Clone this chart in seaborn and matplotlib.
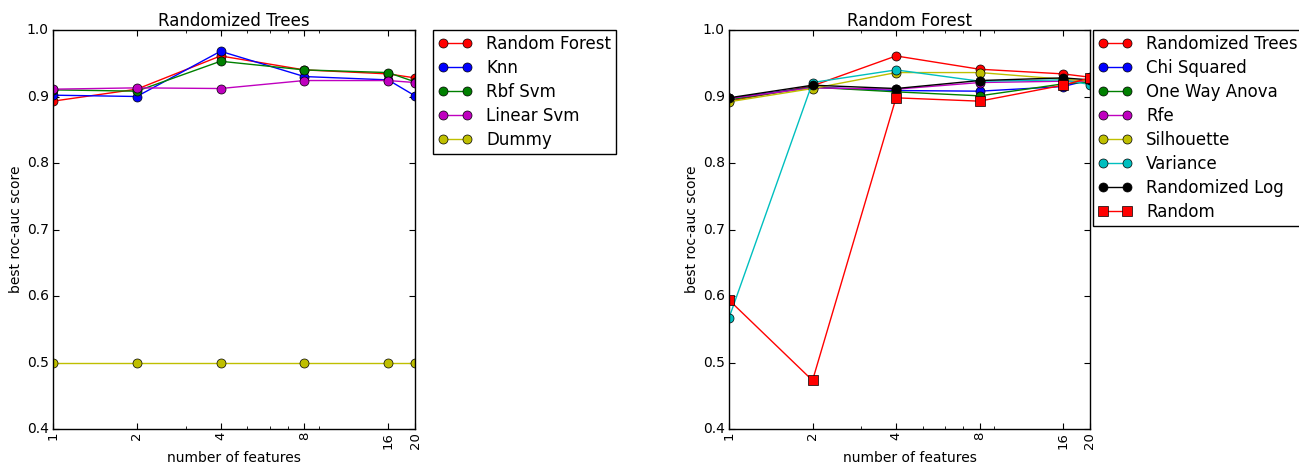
import matplotlib
matplotlib.use("Agg")
import matplotlib.pyplot as plt
import seaborn as sns
import pandas as pd

# number of selected features evaluated
n_features = [1, 2, 4, 8, 16, 20]

# Left panel: classifiers trained on features picked by Randomized Trees
rt_random_forest = [0.893, 0.911, 0.961, 0.940, 0.934, 0.928]
rt_knn = [0.902, 0.900, 0.968, 0.930, 0.925, 0.901]
rt_rbf_svm = [0.910, 0.908, 0.953, 0.940, 0.936, 0.922]
rt_linear_svm = [0.911, 0.913, 0.912, 0.924, 0.924, 0.921]
rt_dummy = [0.5, 0.5, 0.5, 0.5, 0.5, 0.5]

# Right panel: Random Forest scores for each feature selection method
rf_randomized_trees = [0.893, 0.916, 0.961, 0.941, 0.934, 0.929]
rf_chi_squared = [0.897, 0.914, 0.909, 0.908, 0.915, 0.925]
rf_one_way_anova = [0.895, 0.914, 0.907, 0.901, 0.919, 0.922]
rf_rfe = [0.897, 0.913, 0.911, 0.921, 0.923, 0.923]
rf_silhouette = [0.892, 0.912, 0.936, 0.936, 0.926, 0.923]
rf_variance = [0.567, 0.921, 0.940, 0.923, 0.925, 0.918]
rf_randomized_log = [0.898, 0.917, 0.912, 0.924, 0.928, 0.925]
rf_random = [0.594, 0.473, 0.898, 0.893, 0.917, 0.928]

left_names = ["Random Forest", "Knn", "Rbf Svm", "Linear Svm", "Dummy"]
left_values = [rt_random_forest, rt_knn, rt_rbf_svm, rt_linear_svm, rt_dummy]
left_colors = ["r", "b", "g", "m", "y"]
left_markers = ["o"] * 5

right_names = ["Randomized Trees", "Chi Squared", "One Way Anova", "Rfe",
               "Silhouette", "Variance", "Randomized Log", "Random"]
right_values = [rf_randomized_trees, rf_chi_squared, rf_one_way_anova, rf_rfe,
                rf_silhouette, rf_variance, rf_randomized_log, rf_random]
right_colors = ["r", "b", "g", "m", "y", "c", "k", "r"]
right_markers = ["o"] * 7 + ["s"]

plt.style.use("classic")
sns.set_style("ticks", {"xtick.direction": "in", "ytick.direction": "in",
                        "text.color": "black", "axes.labelcolor": "black",
                        "xtick.color": "black", "ytick.color": "black"})
plt.rcParams["font.family"] = ["DejaVu Sans"]

fig = plt.figure(figsize=(12.99, 4.68), dpi=100, facecolor="white")
ax_left = fig.add_axes([0.0408, 0.0833, 0.2787, 0.8526])
ax_right = fig.add_axes([0.5612, 0.0833, 0.2779, 0.8526])


def draw_panel(ax, title, names, values, colors, markers, legend_x):
    for name, vals, col, mk in zip(names, values, colors, markers):
        df = pd.DataFrame({"n_features": n_features, "score": vals})
        sns.lineplot(data=df, x="n_features", y="score", ax=ax, color=col,
                     marker=mk, markersize=6.5, markeredgecolor="k",
                     markeredgewidth=0.5, linewidth=1.0, label=name,
                     errorbar=None)
    ax.set_xscale("log", base=2)
    ax.set_xlim(1, 20)
    ax.set_ylim(0.4, 1.0)
    ax.set_xticks(n_features)
    ax.set_xticklabels([str(v) for v in n_features], rotation=90, fontsize=9.5)
    ax.set_xticks([3, 5, 6, 7, 9], minor=True)
    ax.xaxis.set_minor_formatter(matplotlib.ticker.NullFormatter())
    ax.set_yticks([0.4, 0.5, 0.6, 0.7, 0.8, 0.9, 1.0])
    ax.set_yticklabels(["0.4", "0.5", "0.6", "0.7", "0.8", "0.9", "1.0"],
                       fontsize=10)
    ax.tick_params(which="both", direction="in", top=True, right=True,
                   colors="black")
    ax.tick_params(which="major", length=4, width=0.8)
    ax.tick_params(which="minor", length=2, width=0.6)
    ax.tick_params(axis="x", which="major", pad=2)
    ax.tick_params(axis="y", which="major", pad=3)
    for sp in ax.spines.values():
        sp.set_visible(True)
        sp.set_color("black")
        sp.set_linewidth(1.0)
    ax.set_xlabel("number of features", fontsize=10, labelpad=2, color="black")
    ax.set_ylabel("best roc-auc score", fontsize=10, labelpad=3, color="black")
    ax.set_title(title, fontsize=12, pad=3, color="black")
    leg = ax.legend(loc="upper left", bbox_to_anchor=(legend_x, 1.0),
                    borderaxespad=0.0, numpoints=2, fontsize=12, frameon=True,
                    fancybox=False, edgecolor="black", handlelength=2.05,
                    handletextpad=0.85, labelspacing=0.36, borderpad=0.3)
    for t in leg.get_texts():
        t.set_color("black")


draw_panel(ax_left, "Randomized Trees", left_names, left_values,
           left_colors, left_markers, 1.05)
draw_panel(ax_right, "Random Forest", right_names, right_values,
           right_colors, right_markers, 1.008)

fig.savefig("out.png", dpi=100, facecolor="white")
